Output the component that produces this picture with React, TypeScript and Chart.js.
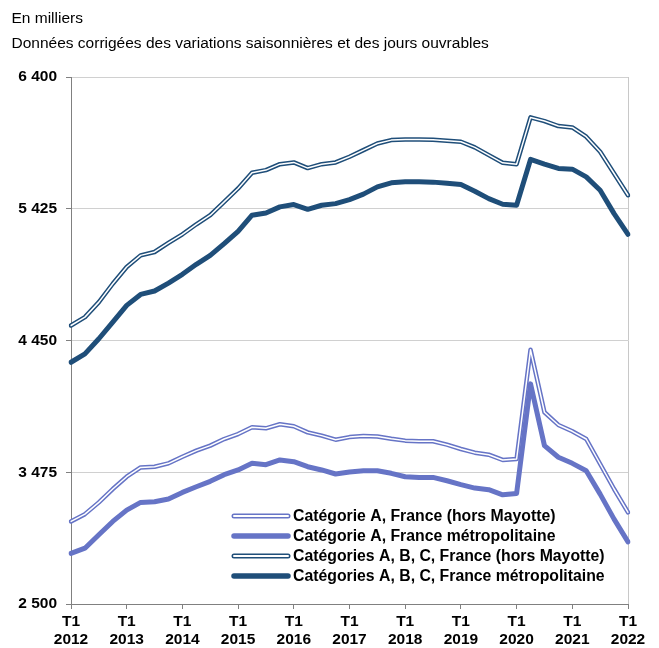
import React, { useEffect, useRef } from "react";
import { Chart, registerables } from "chart.js";

Chart.register(...registerables);

const years = [2012, 2013, 2014, 2015, 2016, 2017, 2018, 2019, 2020, 2021, 2022];
const quarters = ["T1", "T2", "T3", "T4"];

const catAHorsMayotte = [3111, 3165, 3252, 3351, 3442, 3511, 3516, 3541, 3590, 3635, 3672, 3721, 3758, 3808, 3800, 3830, 3815, 3770, 3746, 3716, 3735, 3743, 3740, 3723, 3709, 3704, 3704, 3679, 3647, 3620, 3605, 3566, 3573, 4381, 3919, 3825, 3778, 3721, 3536, 3351, 3178];
const catAMetro = [2874, 2913, 3012, 3111, 3195, 3252, 3257, 3277, 3326, 3368, 3408, 3457, 3492, 3541, 3531, 3566, 3553, 3516, 3492, 3462, 3477, 3486, 3486, 3467, 3442, 3437, 3437, 3412, 3383, 3358, 3346, 3308, 3318, 4129, 3672, 3586, 3541, 3486, 3313, 3128, 2960];
const catABCHorsMayotte = [4561, 4623, 4734, 4870, 4994, 5080, 5105, 5172, 5236, 5310, 5377, 5476, 5575, 5691, 5711, 5755, 5768, 5726, 5755, 5768, 5810, 5859, 5908, 5933, 5938, 5938, 5935, 5928, 5921, 5879, 5822, 5765, 5755, 6101, 6074, 6037, 6027, 5958, 5847, 5686, 5525];
const catABCMetro = [4289, 4351, 4463, 4586, 4710, 4791, 4816, 4875, 4940, 5014, 5080, 5167, 5258, 5377, 5394, 5439, 5456, 5421, 5451, 5463, 5492, 5533, 5587, 5617, 5624, 5624, 5622, 5614, 5604, 5555, 5500, 5458, 5451, 5790, 5755, 5723, 5718, 5661, 5562, 5389, 5236];

const seriesLabels = [
  "Catégorie A, France (hors Mayotte)",
  "Catégorie A, France métropolitaine",
  "Catégories A, B, C, France (hors Mayotte)",
  "Catégories A, B, C, France métropolitaine",
];

const yMin = 2500;
const yMax = 6400;
const yStep = 975;

const title1 = "En milliers";
const title2 = "Données corrigées des variations saisonnières et des jours ouvrables";

const labels: string[] = [];
years.forEach((y, yi) => {
  quarters.forEach((q, qi) => {
    if (yi === years.length - 1 && qi > 0) return;
    labels.push(q + " " + y);
  });
});

const LIGHT = "#6674C6";
const DARK = "#1F4E79";
const FONT = "'Liberation Sans', Arial, sans-serif";

const fmt = (v: number) => String(v).replace(/\B(?=(\d{3})+(?!\d))/g, " ");

const legendItems = [
  { label: seriesLabels[0], color: LIGHT, double: true },
  { label: seriesLabels[1], color: LIGHT, double: false },
  { label: seriesLabels[2], color: DARK, double: true },
  { label: seriesLabels[3], color: DARK, double: false },
];

const decorPlugin = {
  id: "decor",
  beforeDatasetsDraw(chart: any) {
    const { ctx, chartArea } = chart;
    ctx.save();
    ctx.strokeStyle = "#c8c8c8";
    ctx.lineWidth = 1;
    ctx.beginPath();
    ctx.moveTo(Math.round(chartArea.right) + 0.5, chartArea.top);
    ctx.lineTo(Math.round(chartArea.right) + 0.5, chartArea.bottom);
    ctx.stroke();
    ctx.restore();
  },
  afterDraw(chart: any) {
    const { ctx, chartArea } = chart;
    ctx.save();
    const x0 = chartArea.right - 394;
    const x1 = x0 + 54;
    const tx = x0 + 59;
    legendItems.forEach((it, i) => {
      const y = chartArea.bottom - 88 + i * 20;
      ctx.lineCap = "round";
      ctx.strokeStyle = it.color;
      ctx.lineWidth = it.double ? 5 : 5.5;
      ctx.beginPath();
      ctx.moveTo(x0, y);
      ctx.lineTo(x1, y);
      ctx.stroke();
      if (it.double) {
        ctx.strokeStyle = "#ffffff";
        ctx.lineWidth = 2;
        ctx.beginPath();
        ctx.moveTo(x0, y);
        ctx.lineTo(x1, y);
        ctx.stroke();
      }
      ctx.fillStyle = "#000000";
      ctx.font = "bold 15.8px " + FONT;
      ctx.textBaseline = "middle";
      ctx.textAlign = "left";
      ctx.fillText(it.label, tx, y + 1);
    });
    ctx.restore();
  },
};

export default function App() {
  const ref = useRef<HTMLCanvasElement>(null);

  useEffect(() => {
    if (!ref.current) return;
    const common = { pointRadius: 0, pointHoverRadius: 0, tension: 0, borderJoinStyle: "round" as const, borderCapStyle: "round" as const, fill: false };
    const chart = new Chart(ref.current, {
      type: "line",
      data: {
        labels,
        datasets: [
          { ...common, label: seriesLabels[0], data: catAHorsMayotte, borderColor: LIGHT, borderWidth: 4.5, order: 3 },
          { ...common, label: seriesLabels[0] + " (inner)", data: catAHorsMayotte, borderColor: "#ffffff", borderWidth: 1.5, order: 2 },
          { ...common, label: seriesLabels[1], data: catAMetro, borderColor: LIGHT, borderWidth: 5, order: 1 },
          { ...common, label: seriesLabels[2], data: catABCHorsMayotte, borderColor: DARK, borderWidth: 4.5, order: 6 },
          { ...common, label: seriesLabels[2] + " (inner)", data: catABCHorsMayotte, borderColor: "#ffffff", borderWidth: 1.5, order: 5 },
          { ...common, label: seriesLabels[3], data: catABCMetro, borderColor: DARK, borderWidth: 5, order: 4 },
        ],
      },
      options: {
        responsive: false,
        animation: false,
        events: [],
        layout: { padding: { top: 77, right: 31, left: 0, bottom: 0 } },
        plugins: {
          legend: { display: false },
          tooltip: { enabled: false },
          title: { display: false },
        },
        scales: {
          x: {
            type: "category",
            offset: false,
            afterFit: (s: any) => {
              s.height = 44;
            },
            border: { color: "#808080", width: 1 },
            grid: {
              drawOnChartArea: false,
              tickLength: 5,
              tickColor: (c: any) => (c.index % 4 === 0 ? "#808080" : "rgba(0,0,0,0)"),
              color: (c: any) => (c.index % 4 === 0 ? "#808080" : "rgba(0,0,0,0)"),
            },
            ticks: {
              autoSkip: false,
              maxRotation: 0,
              minRotation: 0,
              padding: 3,
              color: "#000000",
              font: { family: FONT, size: 15.5, weight: "bold", lineHeight: 1.2 },
              callback: (_v: any, i: number) => {
                if (i % 4 !== 0) return "";
                const parts = labels[i].split(" ");
                return [parts[0], parts[1]];
              },
            },
          },
          y: {
            min: yMin,
            max: yMax,
            afterFit: (s: any) => {
              s.width = 71;
            },
            border: { color: "#808080", width: 1 },
            grid: {
              color: "#d0d0d0",
              lineWidth: 1,
              tickLength: 5,
              tickColor: "#808080",
            },
            ticks: {
              stepSize: yStep,
              padding: 9,
              color: "#000000",
              font: { family: FONT, size: 15.5, weight: "bold" },
              callback: (v: any) => fmt(Number(v)),
            },
          },
        },
      },
      plugins: [decorPlugin],
    });
    return () => chart.destroy();
  }, []);

  const textStyle: React.CSSProperties = {
    position: "absolute",
    left: 11.5,
    fontFamily: FONT,
    fontSize: "15.5px",
    lineHeight: "18px",
    color: "#000000",
    whiteSpace: "nowrap",
  };

  return (
    <div style={{ position: "absolute", left: 0, top: 0, width: 659, height: 648, background: "#ffffff" }}>
      <canvas ref={ref} width={659} height={648} style={{ position: "absolute", left: 0, top: 0, width: 659, height: 648 }} />
      <div style={{ ...textStyle, top: 8.5 }}>{title1}</div>
      <div style={{ ...textStyle, top: 34 }}>{title2}</div>
    </div>
  );
}
